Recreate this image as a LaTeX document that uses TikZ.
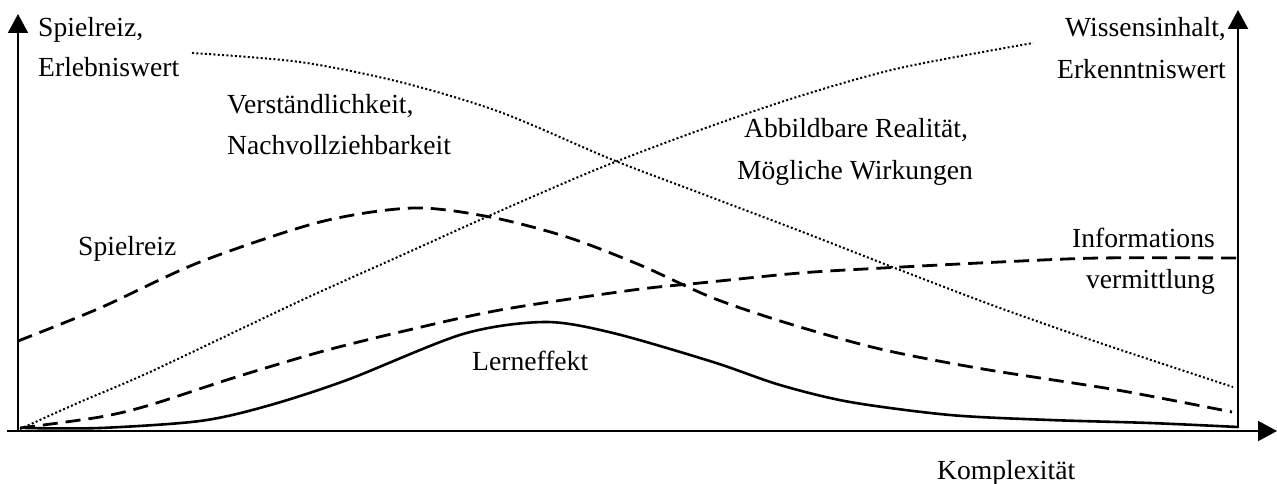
\documentclass[tikz,border=0pt]{standalone}
\usepackage{fontspec}
\setmainfont{Liberation Serif}
\usetikzlibrary{arrows.meta}
\begin{document}
\begin{tikzpicture}[x=1pt,y=-1pt,
  axisline/.style={line width=2pt,-{Triangle[length=19pt,width=20pt]}},
  lbl/.style={inner sep=0pt,font=\fontsize{27.6}{33}\selectfont},
  solidcurve/.style={line width=2.6pt,line join=round},
  dashcurve/.style={line width=2.8pt,dash pattern=on 15pt off 8pt},
  dotcurve/.style={line width=2pt,dash pattern=on 2pt off 2.3pt}]
\useasboundingbox (0,0) rectangle (1277,484);
% axes
\coordinate (xs) at (7,431);
\coordinate (xe) at (1277,431);
\coordinate (ls) at (18,431);
\coordinate (le) at (18,14);
\coordinate (rs) at (1238,428);
\coordinate (re) at (1238,10);
\draw[axisline] (xs) -- (xe);
\draw[axisline] (ls) -- (le);
\draw[axisline] (rs) -- (re);
% Lerneffekt
\draw[solidcurve] plot[smooth] coordinates {(25,428) (100,428) (200,421) (267,406) (347,380) (463,334) (545,322) (613,333) (713,362) (780,385) (850,402) (950,415) (1050,420) (1150,423) (1238,427)};
% Informationsvermittlung
\draw[dashcurve] plot[smooth] coordinates {(20,428) (100,417) (150,405) (233,378) (320,352) (400,332) (500,310) (633,290) (700,283) (800,273) (883,268) (1000,262) (1100,258) (1237,258)};
% Spielreiz hump
\draw[dashcurve] plot[smooth] coordinates {(18,341) (100,308) (200,262) (320,222) (413,208) (490,217) (567,237) (640,265) (713,298) (790,324) (880,349) (983,369) (1117,390) (1232,412)};
% Wissensinhalt rising
\draw[dotcurve] plot[smooth] coordinates {(20,429) (80,402) (150,372) (300,301) (400,256) (500,211) (600,168) (700,130) (800,96) (900,68) (1033,43)};
% Erlebniswert falling
\draw[dotcurve] plot[smooth] coordinates {(192,53) (300,62) (400,82) (500,112) (613,160) (700,193) (800,231) (900,270) (1000,308) (1100,343) (1233,387)};
% labels
\node[lbl,anchor=base west] (l1a) at (38,37) {Spielreiz,};
\node[lbl,anchor=base west] (l1b) at (38,77) {Erlebniswert};
\node[lbl,anchor=base west] (l2a) at (227,114) {Verständlichkeit,};
\node[lbl,anchor=base west] (l2b) at (227,154) {Nachvollziehbarkeit};
\node[lbl,anchor=base east] (l3a) at (1226,37) {Wissensinhalt,};
\node[lbl,anchor=base east] (l3b) at (1226,79) {Erkenntniswert};
\node[lbl,anchor=base] (l4a) at (856,138) {Abbildbare Realität,};
\node[lbl,anchor=base] (l4b) at (855,179) {Mögliche Wirkungen};
\node[lbl,anchor=base west] (l5) at (78,255) {Spielreiz};
\node[lbl,anchor=base east] (l6a) at (1215,247) {Informations};
\node[lbl,anchor=base east] (l6b) at (1215,288) {vermittlung};
\node[lbl,anchor=base west] (l7) at (472,370) {Lerneffekt};
\node[lbl,anchor=base west] (l8) at (937,479) {Komplexität};
\end{tikzpicture}
\end{document}
